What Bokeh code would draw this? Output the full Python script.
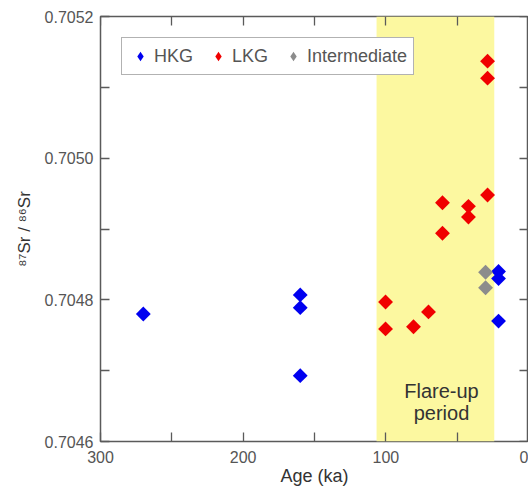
from math import pi
from bokeh.plotting import figure
from bokeh.models import (Range1d, FixedTicker, PrintfTickFormatter, LinearAxis,
                          BoxAnnotation, Label, Legend, LegendItem)
from bokeh.embed import file_html
from bokeh.resources import INLINE

# ---- data ----
hkg_age = [270, 160, 160, 160, 21, 21, 21]
hkg_sr = [0.70478, 0.704807, 0.704789, 0.704693, 0.70484, 0.70483, 0.70477]

lkg_age = [28.7, 28.7, 28.7, 60.3, 60.3, 42.1, 42.1, 100.2, 100.2, 80.6, 70.1]
lkg_sr = [0.705137, 0.705113, 0.704948, 0.704937, 0.704894, 0.704932, 0.704917,
          0.704797, 0.704759, 0.704762, 0.704783]

int_age = [30.1, 30.1]
int_sr = [0.704839, 0.704817]

flare_start = 106.5
flare_end = 24

x_ticks = [300, 200, 100, 0]
x_minor = [250, 150, 50]
y_ticks = [0.7046, 0.7048, 0.7050, 0.7052]
y_minor = [0.7047, 0.7049, 0.7051]

FONT = "Liberation Sans"
AXC = "#5a5a5a"

p = figure(width=528, height=488, output_backend="svg", toolbar_location=None,
           x_range=Range1d(300, 0), y_range=Range1d(0.7046, 0.7052),
           min_border_left=100, min_border_top=16, min_border_right=0, min_border_bottom=46,
           x_axis_type=None, y_axis_type=None)
p.xgrid.visible = False
p.ygrid.visible = False
p.outline_line_color = AXC
p.outline_line_width = 1.5
p.background_fill_color = "white"
p.border_fill_color = "white"

xt = FixedTicker(ticks=x_ticks, minor_ticks=x_minor)
yt = FixedTicker(ticks=y_ticks, minor_ticks=y_minor)


def style(ax):
    ax.axis_line_color = None
    ax.major_tick_in = 9
    ax.major_tick_out = 0
    ax.minor_tick_in = 9
    ax.minor_tick_out = 0
    ax.major_tick_line_color = AXC
    ax.minor_tick_line_color = AXC
    ax.major_tick_line_width = 1.3
    ax.minor_tick_line_width = 1.3
    ax.major_label_text_font = FONT
    ax.major_label_text_color = "#555555"
    ax.major_label_text_font_size = "16px"
    ax.axis_label_text_font = FONT
    ax.axis_label_text_font_style = "normal"
    ax.axis_label_text_color = "#333333"


xb = LinearAxis(ticker=xt)
style(xb)
xb.major_label_standoff = 9
xb.axis_label = "Age (ka)"
xb.axis_label_text_font_size = "18px"
xb.axis_label_standoff = 0
p.add_layout(xb, "below")

yl = LinearAxis(ticker=yt, formatter=PrintfTickFormatter(format="%.4f"))
style(yl)
yl.major_label_standoff = 7
yl.axis_label = "⁸⁷Sr / ⁸⁶Sr"
yl.axis_label_text_font_size = "17px"
yl.axis_label_standoff = 8
p.add_layout(yl, "left")

# mirrored tick marks on the top and right edges (no labels, no extra space)
xa = LinearAxis(ticker=xt, fixed_location=0.7052)
style(xa)
xa.major_label_text_color = None
p.add_layout(xa, "above")

yr = LinearAxis(ticker=yt, fixed_location=0)
style(yr)
yr.major_label_text_color = None
p.add_layout(yr, "right")

band = BoxAnnotation(left=flare_start, right=flare_end, fill_color="#FCF8A0",
                     fill_alpha=1.0, line_color=None, level="underlay")
p.add_layout(band)

colors = {"HKG": "#0000F0", "LKG": "#F00000", "Intermediate": "#8C8C8C"}
series = {"HKG": (hkg_age, hkg_sr), "LKG": (lkg_age, lkg_sr),
          "Intermediate": (int_age, int_sr)}

# diamond glyphs (used for the legend swatches), covered by the rotated squares
items = []
for name in ["HKG", "LKG", "Intermediate"]:
    ages, srs = series[name]
    r = p.scatter(ages, srs, marker="diamond", size=8, fill_color=colors[name],
                  line_color=None)
    items.append(LegendItem(label=name, renderers=[r]))

sq = dict(marker="square", size=10.5, angle=pi / 4, line_color=None)
for name in ["HKG", "LKG", "Intermediate"]:
    ages, srs = series[name]
    p.scatter(ages, srs, fill_color=colors[name], **sq)

legend = Legend(items=items, orientation="horizontal", location="top_left", margin=21,
                padding=6, spacing=13, label_standoff=2,
                glyph_width=24, glyph_height=24, label_height=20,
                label_text_font=FONT, label_text_font_size="18px",
                label_text_color="#555555",
                border_line_color="#666666", border_line_width=1.5,
                background_fill_color="white", background_fill_alpha=1.0)
p.add_layout(legend)

p.add_layout(Label(x=61, y=0.704656, text="Flare-up\nperiod", text_align="center",
                   text_baseline="middle", text_font=FONT, text_font_size="20px",
                   text_color="#333333", text_line_height=1.0))

open("out.html", "w").write(file_html(p, INLINE))
